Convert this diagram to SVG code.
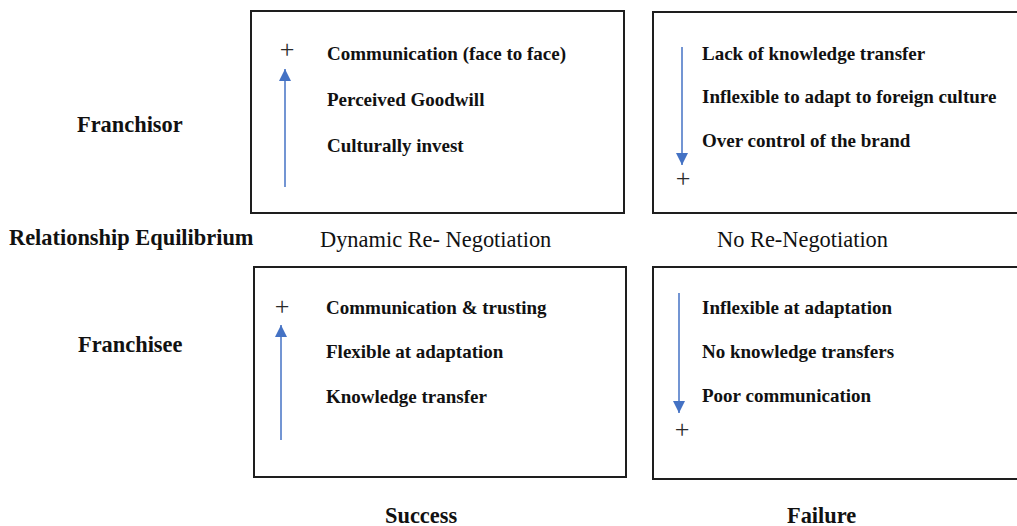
<svg xmlns="http://www.w3.org/2000/svg" width="1017" height="526" viewBox="0 0 1017 526">
  <style>
    .box { fill: #ffffff; stroke: #1e1e1e; stroke-width: 2; }
    .item { font-family: "Liberation Serif", "Times New Roman", serif; font-weight: bold; font-size: 19px; fill: #111111; }
    .head { font-family: "Liberation Serif", "Times New Roman", serif; font-weight: bold; font-size: 22.4px; fill: #111111; }
    .sub { font-family: "Liberation Serif", "Times New Roman", serif; font-size: 22.4px; fill: #111111; }
    .sign { font-family: "Liberation Serif", "Times New Roman", serif; font-size: 26px; fill: #2a2a2a; text-anchor: middle; }
    .trend { stroke: #4472c4; stroke-width: 1.5; fill: none; marker-end: url(#tip); }
  </style>
  <defs>
    <marker id="tip" markerUnits="userSpaceOnUse" markerWidth="12" markerHeight="12" refX="12" refY="6" orient="auto">
      <path d="M0,0 L12,6 L0,12 z" fill="#4472c4"/>
    </marker>
  </defs>
  <rect width="1017" height="526" fill="#ffffff"/>

  <!-- row and column headings -->
  <g id="labels">
    <text class="head" x="77" y="132">Franchisor</text>
    <text class="head" x="9" y="245">Relationship Equilibrium</text>
    <text class="head" x="78" y="352">Franchisee</text>
    <text class="sub" x="320" y="247">Dynamic Re- Negotiation</text>
    <text class="sub" x="717" y="247">No Re-Negotiation</text>
    <text class="head" x="385" y="523">Success</text>
    <text class="head" x="787" y="523">Failure</text>
  </g>

  <!-- franchisor / success -->
  <g id="franchisor-success">
    <rect class="box" x="251" y="11" width="373" height="202"/>
    <text class="sign" x="287" y="58">+</text>
    <text class="item" x="327" y="60">Communication (face to face)</text>
    <text class="item" x="327" y="106">Perceived Goodwill</text>
    <text class="item" x="327" y="152">Culturally invest</text>
  </g>

  <!-- franchisor / failure -->
  <g id="franchisor-failure">
    <rect class="box" x="653" y="12" width="400" height="201"/>
    <text class="sign" x="683" y="187">+</text>
    <text class="item" x="702" y="60">Lack of knowledge transfer</text>
    <text class="item" x="702" y="103">Inflexible to adapt to foreign culture</text>
    <text class="item" x="702" y="147">Over control of the brand</text>
  </g>

  <!-- franchisee / success -->
  <g id="franchisee-success">
    <rect class="box" x="254" y="267" width="372" height="210"/>
    <text class="sign" x="282" y="315">+</text>
    <text class="item" x="326" y="314">Communication &amp; trusting</text>
    <text class="item" x="326" y="358">Flexible at adaptation</text>
    <text class="item" x="326" y="403">Knowledge transfer</text>
  </g>

  <!-- franchisee / failure -->
  <g id="franchisee-failure">
    <rect class="box" x="653" y="267" width="400" height="212"/>
    <text class="sign" x="682" y="438">+</text>
    <text class="item" x="702" y="314">Inflexible at adaptation</text>
    <text class="item" x="702" y="358">No knowledge transfers</text>
    <text class="item" x="702" y="402">Poor communication</text>
  </g>

  <!-- trend arrows -->
  <g id="connectors">
    <line class="trend" x1="285" y1="187" x2="285" y2="69"/>
    <line class="trend" x1="682" y1="47" x2="682" y2="165"/>
    <line class="trend" x1="281" y1="440" x2="281" y2="325"/>
    <line class="trend" x1="679" y1="293" x2="679" y2="413"/>
  </g>
</svg>
